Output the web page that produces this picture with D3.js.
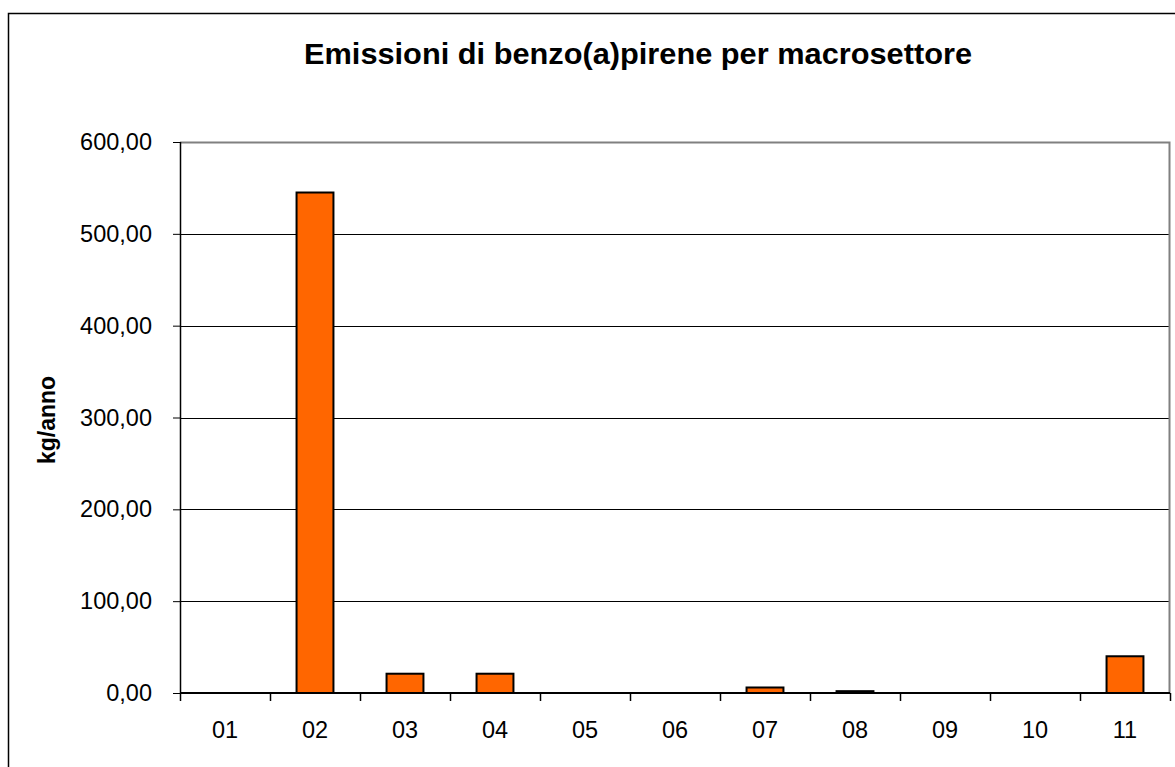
<!DOCTYPE html>
<html>
<head>
<meta charset="utf-8">
<script src="https://d3js.org/d3.v7.min.js"></script>
<style>
  body { margin: 0; background: #fff; }
  text { font-family: "Liberation Sans", Arial, sans-serif; }
</style>
</head>
<body>
<script>
// chart data
var sectors = ["01", "02", "03", "04", "05", "06", "07", "08", "09", "10", "11"];
var emissions = [0, 545, 21, 21, 0, 0, 6, 2, 0, 0, 40];
var yTicks = [0, 100, 200, 300, 400, 500, 600];

var svgWidth = 1175;
var svgHeight = 767;

// plot area inside the frame
var chartMargin = { top: 142, right: 5, bottom: 74, left: 180 };
var chartWidth = svgWidth - chartMargin.left - chartMargin.right;
var chartHeight = svgHeight - chartMargin.top - chartMargin.bottom;

var svg = d3.select("body")
  .append("svg")
  .attr("width", svgWidth)
  .attr("height", svgHeight);

// outer frame
svg.append("rect")
  .attr("x", 8.5)
  .attr("y", 13.5)
  .attr("width", 1180)
  .attr("height", 800)
  .attr("fill", "none")
  .attr("stroke", "#000")
  .attr("stroke-width", 1.5);

svg.append("text")
  .attr("x", 638)
  .attr("y", 64)
  .attr("text-anchor", "middle")
  .attr("textLength", 668)
  .attr("lengthAdjust", "spacingAndGlyphs")
  .style("font-size", "29.5px")
  .style("font-weight", "bold")
  .text("Emissioni di benzo(a)pirene per macrosettore");

var chartGroup = svg.append("g")
  .attr("transform", `translate(${chartMargin.left}, ${chartMargin.top})`);

var xScale = d3.scaleBand()
  .domain(sectors)
  .range([0, chartWidth])
  .paddingInner(0.59)
  .paddingOuter(0.295);

var yScale = d3.scaleLinear()
  .domain([0, 600])
  .range([chartHeight, 0]);

// gridlines
chartGroup.selectAll(".grid")
  .data(yTicks.slice(1))
  .enter()
  .append("line")
  .attr("x1", 0)
  .attr("x2", chartWidth)
  .attr("y1", d => Math.round(yScale(d)) + 0.5)
  .attr("y2", d => Math.round(yScale(d)) + 0.5)
  .attr("stroke", "#000")
  .attr("stroke-width", 1);

// plot border top/right (grey)
chartGroup.append("path")
  .attr("d", `M0,0.5H${chartWidth - 0.5}V${chartHeight}`)
  .attr("fill", "none")
  .attr("stroke", "#808080")
  .attr("stroke-width", 2);

// bars
chartGroup.selectAll(".bar")
  .data(emissions)
  .enter()
  .append("rect")
  .attr("x", (d, i) => xScale(sectors[i]))
  .attr("y", d => yScale(d))
  .attr("width", xScale.bandwidth())
  .attr("height", d => chartHeight - yScale(d))
  .attr("fill", d => d > 3 ? "#ff6600" : "#000")
  .attr("stroke", "#000")
  .attr("stroke-width", 2)
  .style("display", d => d > 0 ? null : "none");

// y axis
var leftAxis = d3.axisLeft(yScale)
  .tickValues(yTicks)
  .tickSize(7)
  .tickPadding(21)
  .tickFormat(d => d3.format(".2f")(d).replace(".", ","));

var yAxis = chartGroup.append("g").call(leftAxis);
yAxis.select(".domain").attr("stroke", "#000").attr("stroke-width", 1.5).attr("d", `M0.5,0V${chartHeight}`);
yAxis.selectAll("text").style("font-size", "23.5px").attr("fill", "#000");

// x axis with ticks at the category boundaries
var boundaries = d3.range(sectors.length + 1).map(i => i * chartWidth / sectors.length);
var xAxisGroup = chartGroup.append("g")
  .attr("transform", `translate(0, ${chartHeight})`);

xAxisGroup.append("line")
  .attr("x1", 0)
  .attr("x2", chartWidth)
  .attr("y1", 0)
  .attr("y2", 0)
  .attr("stroke", "#000")
  .attr("stroke-width", 2);

xAxisGroup.selectAll(".xtick")
  .data(boundaries)
  .enter()
  .append("line")
  .attr("x1", d => Math.round(d) + 0.5)
  .attr("x2", d => Math.round(d) + 0.5)
  .attr("y1", 0)
  .attr("y2", 8)
  .attr("stroke", "#000")
  .attr("stroke-width", 1.5);

xAxisGroup.selectAll(".xlabel")
  .data(sectors)
  .enter()
  .append("text")
  .attr("x", d => xScale(d) + xScale.bandwidth() / 2)
  .attr("y", 45)
  .attr("text-anchor", "middle")
  .style("font-size", "23.5px")
  .text(d => d);

// y axis title
svg.append("text")
  .attr("transform", "translate(55, 420) rotate(-90)")
  .attr("text-anchor", "middle")
  .style("font-size", "23px")
  .style("font-weight", "bold")
  .text("kg/anno");
</script>
</body>
</html>
